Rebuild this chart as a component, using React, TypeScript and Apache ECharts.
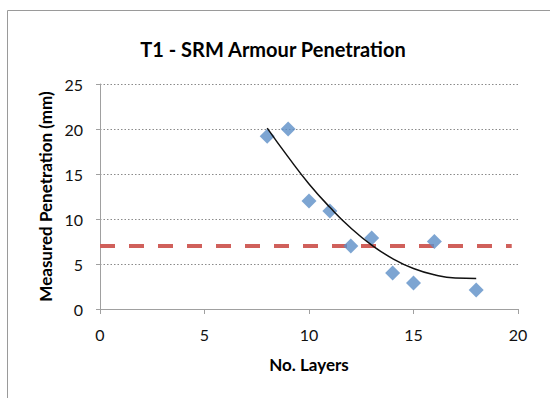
import React, { useEffect, useRef } from "react";
import * as echarts from "echarts";

const layers = [8, 9, 10, 11, 12, 13, 14, 15, 16, 18];
const penetration = [19.2, 20, 12, 10.9, 7, 7.9, 4, 2.9, 7.5, 2.1];
const trendX = [8, 9, 10, 11, 12, 13, 14, 15, 16, 17, 18];
const trendY = [20.1, 16.9, 13.9, 11.3, 9.0, 7.1, 5.6, 4.5, 3.8, 3.45, 3.4];
const thresholdValue = 7;
const xRange = [0, 20];
const yRange = [0, 25];

const FONT = "Lato, 'Open Sans', sans-serif";

export default function App() {
  const ref = useRef<HTMLDivElement>(null);
  useEffect(() => {
    if (!ref.current) return;
    const chart = echarts.init(ref.current, null, { renderer: "svg" });
    chart.setOption({
      animation: false,
      backgroundColor: "#ffffff",
      textStyle: { fontFamily: FONT },
      graphic: [
        {
          type: "rect",
          shape: { x: 7.5, y: 10.5, width: 600, height: 450 },
          style: { fill: "none", stroke: "#9a9a9a", lineWidth: 1 },
          silent: true,
          z: -1,
        },
      ],
      title: {
        text: "T1 - SRM Armour Penetration",
        left: 268,
        top: 34,
        textAlign: "center",
        textStyle: { fontFamily: FONT, fontWeight: "bold", fontSize: 20, color: "#000" },
      },
      grid: { left: 100, right: 32, top: 84, bottom: 89 },
      xAxis: {
        type: "value",
        min: xRange[0],
        max: xRange[1],
        interval: 5,
        name: "No. Layers",
        nameLocation: "middle",
        nameGap: 47,
        nameTextStyle: { fontFamily: FONT, fontWeight: "bold", fontSize: 17, color: "#000" },
        axisLine: { show: true, lineStyle: { color: "#a0a0a0", width: 1 } },
        axisTick: { show: true, length: 5, lineStyle: { color: "#a0a0a0" } },
        axisLabel: { fontFamily: FONT, fontSize: 16, color: "#111", margin: 17 },
        splitLine: { show: false },
      },
      yAxis: {
        type: "value",
        min: yRange[0],
        max: yRange[1],
        interval: 5,
        name: "Measured Penetration (mm)",
        nameLocation: "middle",
        nameGap: 45,
        nameTextStyle: { fontFamily: FONT, fontWeight: "bold", fontSize: 17, color: "#000" },
        axisLine: { show: true, lineStyle: { color: "#a0a0a0", width: 1 } },
        axisTick: { show: true, length: 4, lineStyle: { color: "#a0a0a0" } },
        axisLabel: { fontFamily: FONT, fontSize: 16, color: "#111", margin: 17 },
        splitLine: { show: true, lineStyle: { color: "#8a8a8a", type: [1.5, 2], width: 1 } },
      },
      series: [
        {
          type: "line",
          data: [
            [xRange[0], thresholdValue],
            [xRange[1] - 0.3, thresholdValue],
          ],
          symbol: "none",
          lineStyle: { color: "#d0605b", width: 4, type: [15, 14] },
          z: 1,
        },
        {
          type: "scatter",
          data: layers.map((x, i) => [x, penetration[i]]),
          symbol: "diamond",
          symbolSize: 15,
          itemStyle: { color: "#5d8fc7" },
          z: 2,
        },
        {
          type: "line",
          data: trendX.map((x, i) => [x, trendY[i]]),
          smooth: true,
          symbol: "none",
          lineStyle: { color: "#111", width: 1.5 },
          z: 3,
        },
      ],
    });
    return () => chart.dispose();
  }, []);
  return <div ref={ref} style={{ width: 550, height: 398, position: "absolute", left: 0, top: 0 }} />;
}
